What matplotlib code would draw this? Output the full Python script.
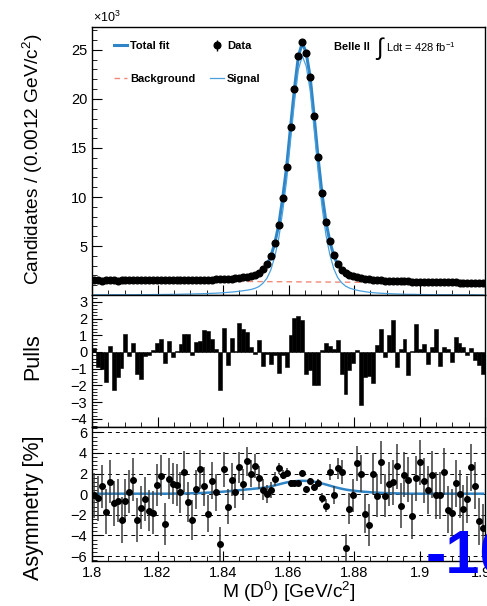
import matplotlib
matplotlib.use('Agg')
import matplotlib.pyplot as plt
import numpy as np
from matplotlib.ticker import MultipleLocator

plt.rcParams['font.family'] = ['Liberation Sans', 'DejaVu Sans']
plt.rcParams['mathtext.fontset'] = 'custom'
plt.rcParams['mathtext.rm'] = 'Liberation Sans'
plt.rcParams['mathtext.it'] = 'Liberation Sans:italic'
plt.rcParams['mathtext.bf'] = 'Liberation Sans:bold'

# histogram binning: 100 bins of 0.0012 GeV/c^2 from 1.80 to 1.92
x_lo, x_hi, bin_w = 1.80, 1.92, 0.0012
centers = x_lo + bin_w * (np.arange(100) + 0.5)

# candidates per bin (x10^3)
data_k = [1.52, 1.50, 1.49, 1.51, 1.50, 1.52, 1.49, 1.50, 1.51, 1.53,
          1.50, 1.52, 1.51, 1.50, 1.52, 1.53, 1.51, 1.52, 1.50, 1.53,
          1.52, 1.54, 1.52, 1.53, 1.55, 1.54, 1.56, 1.55, 1.57, 1.58,
          1.59, 1.60, 1.62, 1.64, 1.66, 1.69, 1.73, 1.77, 1.82, 1.88,
          1.98, 2.10, 2.28, 2.62, 3.13, 3.97, 5.30, 7.15, 9.88, 13.05,
          17.10, 21.05, 24.36, 25.75, 24.70, 22.24, 18.28, 14.08, 10.40, 7.50,
          5.50, 4.05, 3.13, 2.60, 2.24, 2.03, 1.90, 1.80, 1.72, 1.66,
          1.60, 1.56, 1.53, 1.50, 1.47, 1.46, 1.44, 1.43, 1.42, 1.40,
          1.39, 1.38, 1.37, 1.36, 1.35, 1.34, 1.33, 1.33, 1.32, 1.31,
          1.30, 1.29, 1.29, 1.28, 1.27, 1.27, 1.26, 1.25, 1.25, 1.24]

# signal component of the fit at bin centres (x10^3)
signal_k = [0.03, 0.03, 0.03, 0.03, 0.03, 0.04, 0.04, 0.04, 0.04, 0.04,
            0.04, 0.05, 0.05, 0.05, 0.05, 0.06, 0.06, 0.06, 0.07, 0.07,
            0.08, 0.08, 0.09, 0.10, 0.11, 0.12, 0.13, 0.14, 0.15, 0.165,
            0.18, 0.20, 0.22, 0.25, 0.28, 0.31, 0.35, 0.40, 0.45, 0.51,
            0.58, 0.70, 0.88, 1.22, 1.72, 2.58, 3.92, 5.78, 8.50, 11.67,
            15.72, 19.67, 22.99, 24.37, 23.33, 20.88, 16.93, 12.72, 9.05, 6.17,
            4.15, 2.70, 1.79, 1.27, 0.92, 0.72, 0.59, 0.49, 0.41, 0.35,
            0.29, 0.25, 0.22, 0.19, 0.17, 0.15, 0.13, 0.12, 0.10, 0.09,
            0.08, 0.08, 0.07, 0.06, 0.06, 0.05, 0.05, 0.05, 0.04, 0.04,
            0.04, 0.04, 0.03, 0.03, 0.03, 0.03, 0.03, 0.03, 0.02, 0.02]

# linear background at the range edges (x10^3)
bkg_ends = [1.50, 1.22]

pulls = [0.26, -0.9, -1.0, -1.8, 0.34, -2.3, -1.5, -0.96, 1.1, -0.26,
         0.54, -1.3, -1.64, -0.26, -0.16, 0.14, 0.54, 0.8, -0.64, 0.66,
         -0.3, 0.05, 0.46, 1.06, 1.06, -0.2, 0.6, 0.64, 1.34, 1.24,
         0.8, 0.2, -2.26, 1.46, -0.8, 0.84, 0.05, 1.72, 1.4, 1.2,
         0.3, -0.1, 0.74, -0.86, -0.1, -0.7, -0.2, -1.26, -0.2, -0.9,
         1.0, 2.06, 2.14, 1.94, -1.3, -1.1, -2.0, -2.0, 0.14, 0.54,
         0.36, 0.2, 0.74, -1.3, -2.5, -1.1, -0.65, 0.14, -3.2, -1.5,
         -1.45, -1.85, 0.44, 1.4, -0.3, 1.0, 1.94, -0.9, 0.2, 0.8,
         -1.4, 0.05, 1.7, 0.2, 0.5, -0.7, 0.3, 1.4, -0.86, 0.3,
         0.2, -0.6, 0.9, 0.55, 0.3, -0.2, 0.26, -0.5, -0.8, -1.3]

asym = [-0.1, -0.4, 0.76, -1.7, 1.2, -0.9, -0.63, -2.5, -0.63, 0.26,
        1.4, -2.5, -1.3, -0.46, -1.6, -1.8, 0.9, 1.8, -2.9, 1.5,
        1.0, 0.9, 0.2, 2.2, -0.76, -2.5, 0.46, 2.4, 0.76, -1.9,
        1.3, 0.2, -4.85, 2.4, -1.2, 1.4, 0.26, 2.6, 0.96, 3.2,
        2.0, 2.74, 1.6, 0.43, 0.0, 0.43, 1.5, 2.5, 1.9, 2.1,
        1.05, 1.05, 1.05, 2.05, 0.5, 1.25, 0.66, 1.05, -0.4, -1.1,
        2.15, -0.1, 2.5, 2.15, -5.2, -1.4, -0.1, 3.0, 2.0, -1.9,
        -3.0, 2.0, -0.16, 3.1, -0.16, 1.0, 1.15, 2.7, -1.1, 1.9,
        1.4, -2.15, 1.55, 3.1, 1.3, 0.4, 1.9, -0.1, -0.1, 2.2,
        -1.5, -1.8, 1.05, 0.0, -1.45, -0.5, 2.6, 0.83, -2.65, -3.3]

asym_err = [2.2, 2.2, 2.1, 2.2, 2.1, 2.2, 2.1, 2.2, 2.1, 2.1,
            2.1, 2.1, 2.1, 2.1, 2.0, 2.1, 2.0, 2.0, 2.0, 2.0,
            2.0, 2.0, 2.0, 2.0, 1.9, 1.9, 1.9, 1.9, 1.9, 1.8,
            1.8, 1.8, 1.7, 1.7, 1.7, 1.6, 1.6, 1.5, 1.5, 1.4,
            1.3, 1.2, 1.1, 1.0, 0.9, 0.8, 0.7, 0.55, 0.45, 0.4,
            0.35, 0.3, 0.3, 0.3, 0.3, 0.3, 0.35, 0.4, 0.5, 0.6,
            0.75, 0.9, 1.05, 1.2, 1.35, 1.5, 1.6, 1.7, 1.8, 1.9,
            2.0, 2.0, 2.1, 2.1, 2.1, 2.1, 2.2, 2.2, 2.2, 2.2,
            2.2, 2.2, 2.2, 2.2, 2.2, 2.3, 2.3, 2.3, 2.3, 2.3,
            2.3, 2.3, 2.3, 2.3, 2.3, 2.3, 2.3, 2.3, 2.3, 2.3]

asym_fit = [0.05, 0.05, 0.05, 0.05, 0.05, 0.05, 0.05, 0.05, 0.05, 0.05,
            0.05, 0.05, 0.05, 0.05, 0.05, 0.05, 0.05, 0.05, 0.05, 0.05,
            0.06, 0.06, 0.07, 0.07, 0.08, 0.09, 0.10, 0.11, 0.13, 0.15,
            0.17, 0.19, 0.22, 0.25, 0.28, 0.31, 0.35, 0.39, 0.43, 0.47,
            0.50, 0.54, 0.58, 0.62, 0.68, 0.76, 0.85, 0.95, 1.05, 1.14,
            1.21, 1.26, 1.29, 1.30, 1.29, 1.26, 1.21, 1.13, 1.04, 0.94,
            0.83, 0.72, 0.62, 0.53, 0.45, 0.39, 0.34, 0.30, 0.26, 0.23,
            0.20, 0.17, 0.15, 0.13, 0.11, 0.10, 0.09, 0.08, 0.07, 0.06,
            0.05, 0.05, 0.05, 0.05, 0.05, 0.05, 0.05, 0.05, 0.05, 0.05,
            0.05, 0.05, 0.05, 0.05, 0.05, 0.05, 0.05, 0.05, 0.05, 0.05]

data_k = np.array(data_k)
signal_k = np.array(signal_k)
bkg_k = np.interp(centers, [x_lo, x_hi], bkg_ends)
total_k = signal_k + bkg_k
data_err = np.sqrt(data_k * 1000) / 1000

c_total = '#2f85c6'
c_signal = '#4aa0dc'
c_bkg = '#f08a78'

fig = plt.figure(figsize=(4.87, 6.06), dpi=100)
L, W = 0.189, 0.807
ax1 = fig.add_axes([L, 0.513, W, 0.442])
ax2 = fig.add_axes([L, 0.295, W, 0.218])
ax3 = fig.add_axes([L, 0.074, W, 0.221])

# --- top: mass fit
h_bkg, = ax1.plot([x_lo, x_hi], bkg_ends, color=c_bkg, ls=(0, (4, 3)), lw=1.0, label='Background')
h_tot, = ax1.plot(centers, total_k, color=c_total, lw=2.2, label='Total fit')
h_sig, = ax1.plot(centers, signal_k, color=c_signal, lw=0.9, label='Signal')
h_dat = ax1.errorbar(centers, data_k, yerr=data_err, fmt='o', color='k', ms=4.8,
                     elinewidth=1, capsize=0, label='Data')
ax1.set_ylim(0, 27.3)
ax1.set_yticks([5, 10, 15, 20, 25])
ax1.yaxis.set_minor_locator(MultipleLocator(1))
ax1.legend([h_tot, h_bkg, h_dat, h_sig], ['Total fit', 'Background', 'Data', 'Signal'],
           ncol=2, loc='upper left', bbox_to_anchor=(0.03, 0.985), frameon=False,
           prop={'weight': 'bold', 'size': 8}, handlelength=1.2, handletextpad=0.3,
           columnspacing=1.3, labelspacing=2.0)
ax1.text(0.615, 0.927, 'Belle II', transform=ax1.transAxes, fontsize=8,
         fontweight='bold', va='center')
ax1.text(0.72, 0.922, r'$\int$', transform=ax1.transAxes, fontsize=17, va='center',
         family='DejaVu Sans')
ax1.text(0.748, 0.927, r'Ldt = 428 fb$^{-1}$', transform=ax1.transAxes, fontsize=8,
         va='center')
fig.text(0.191, 0.958, r'$\times$10$^{3}$', fontsize=9, va='bottom')

# --- middle: pulls
ax2.bar(centers, pulls, width=bin_w, color='k', edgecolor='k', lw=0.4)
ax2.set_ylim(-4.5, 3.4)
ax2.set_yticks(range(-4, 4))
ax2.yaxis.set_minor_locator(MultipleLocator(0.2))

# --- bottom: asymmetry
for v in [-6, -4, -2, 0, 2, 4, 6]:
    ax3.axhline(v, color='k', ls=(0, (4, 4)), lw=0.7, zorder=0)
ax3.plot(centers, asym_fit, color=c_total, lw=1.8, zorder=2)
ax3.errorbar(centers, asym, yerr=asym_err, fmt='o', color='k', ms=4, ecolor='#3a3a3a',
             elinewidth=1.1, capsize=0, zorder=3)
ax3.set_ylim(-6.5, 6.5)
ax3.set_yticks(range(-6, 7, 2))
ax3.yaxis.set_minor_locator(MultipleLocator(0.4))

for ax in (ax1, ax2, ax3):
    ax.set_xlim(x_lo, x_hi)
    ax.xaxis.set_major_locator(MultipleLocator(0.02))
    ax.xaxis.set_minor_locator(MultipleLocator(0.005))
    ax.tick_params(which='both', direction='in', top=False, right=False, labelsize=10.5)
    ax.tick_params(which='major', length=7)
    ax.tick_params(which='minor', length=3.5)
    for s in ax.spines.values():
        s.set_linewidth(1.0)
ax1.tick_params(labelbottom=False)
ax2.tick_params(labelbottom=False)
ax3.set_xticks([1.8, 1.82, 1.84, 1.86, 1.88, 1.9, 1.92])
ax3.set_xticklabels(['1.8', '1.82', '1.84', '1.86', '1.88', '1.9', '1.92'])

fig.text(0.068, 0.737, r'Candidates / (0.0012 GeV/c$^2$)', rotation=90, fontsize=13.8,
         ha='center', va='center')
fig.text(0.068, 0.411, 'Pulls', rotation=90, fontsize=15.5, ha='center', va='center')
fig.text(0.068, 0.162, 'Asymmetry [%]', rotation=90, fontsize=15.5, ha='center', va='center')
fig.text(0.593, 0.023, r'M (D$^0$) [GeV/c$^2$]', fontsize=13.8, ha='center', va='center')

fig.text(0.873, 0.053, '-10', color='#0000ff', fontsize=44, fontweight='bold',
         ha='left', va='baseline')

fig.savefig('out.png', dpi=100)
